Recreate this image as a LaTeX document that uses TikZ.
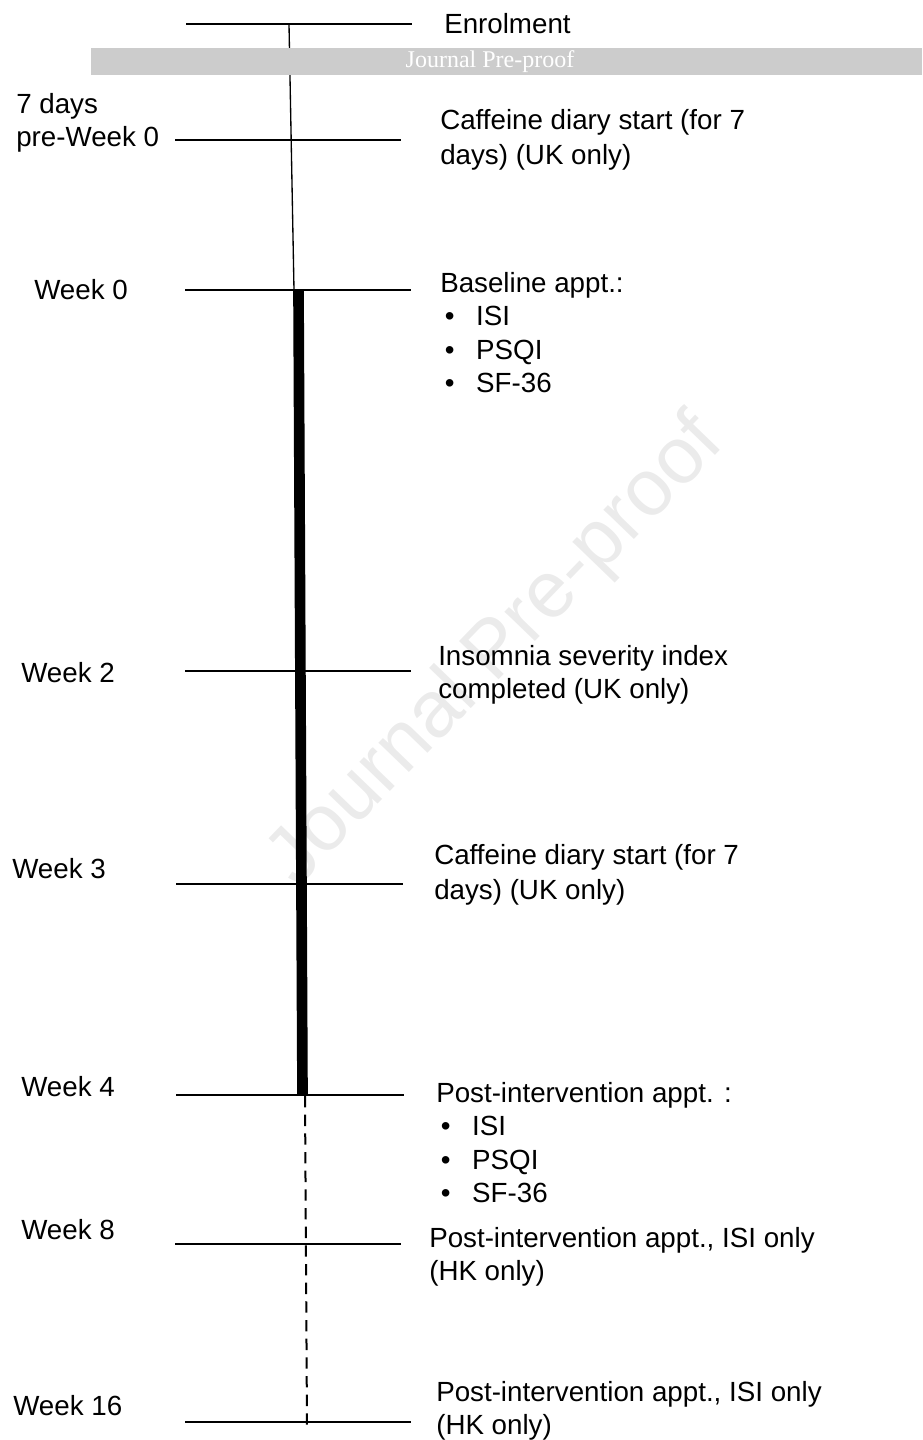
\documentclass[tikz,border=0pt]{standalone}
\usepackage{fontspec}
\setmainfont{Liberation Sans}
\newfontfamily\wmfont{Liberation Serif}

\newcommand{\bulletitem}[1]{\hspace*{3.5pt}\makebox[23.5pt][l]{\textbullet}#1}

\begin{document}
\begin{tikzpicture}[x=0.75pt,y=-0.75pt,
    tickline/.style={line width=1.5pt},
    weektext/.style={anchor=west,inner sep=0pt,font=\fontsize{20.8}{25}\selectfont},
    eventtext/.style={anchor=north west,inner sep=0pt,align=left,font=\fontsize{20.8}{25}\selectfont}]
    \useasboundingbox (0,0) rectangle (922,1440);
    % watermark
    \node[rotate=46,text=gray!16,font=\fontsize{60}{60}\selectfont] (wmark) at (497,652) {Journal Pre-proof};
    % thin part of the time line
    \coordinate (sp-top) at (289,24);
    \coordinate (sp-w0) at (294,290);
    \draw[line width=1pt] (sp-top) -- (sp-w0);
    % grey banner
    \fill[gray!40] (91,48) rectangle (922,75);
    \node[text=white,font=\wmfont\fontsize{18}{18}\selectfont] (banner) at (490,62) {Journal Pre-proof};
    % ticks
    \foreach \tk/\ty/\xa/\xb in {enrol/24/186/412,pre0/140/175/401,w0/290/185/411,w2/671/185/411,
        w3/884/176/403,w4/1095/176/404,w8/1244/175/401,w16/1422/185/411}{
        \coordinate (\tk-l) at (\xa,\ty);
        \coordinate (\tk-r) at (\xb,\ty);
        \draw[tickline] (\tk-l) -- (\tk-r);
    }
    % intervention period and follow-up
    \coordinate (th-top) at (298.5,290);
    \coordinate (th-bot) at (302.5,1095);
    \draw[line width=8pt] (th-top) -- (th-bot);
    \coordinate (fu-top) at (305,1096);
    \coordinate (fu-bot) at (307,1426);
    \draw[line width=1.5pt,dash pattern=on 8.5pt off 5.5pt] (fu-top) -- (fu-bot);
    % time points
    \node[eventtext] (lab-pre0) at (16,93) {7 days\\pre-Week 0};
    \node[weektext] (lab-w0) at (34,290) {Week 0};
    \node[weektext] (lab-w2) at (21,673) {Week 2};
    \node[weektext] (lab-w3) at (12,869) {Week 3};
    \node[weektext] (lab-w4) at (21,1087) {Week 4};
    \node[weektext] (lab-w8) at (21,1230) {Week 8};
    \node[weektext] (lab-w16) at (13,1406) {Week 16};
    % events
    \node[weektext] (ev-enrol) at (444,24) {Enrolment};
    \node[eventtext] (ev-pre0) at (440,109) {Caffeine diary start (for 7\\[1.5pt]days) (UK only)};
    \node[eventtext] (ev-w0) at (440,272) {Baseline appt.:\\\bulletitem{ISI}\\\bulletitem{PSQI}\\\bulletitem{SF-36}};
    \node[eventtext] (ev-w2) at (438,645) {Insomnia severity index\\completed (UK only)};
    \node[eventtext] (ev-w3) at (434,844) {Caffeine diary start (for 7\\[1pt]days) (UK only)};
    \node[eventtext] (ev-w4) at (436,1082) {Post-intervention appt. :\\\bulletitem{ISI}\\\bulletitem{PSQI}\\\bulletitem{SF-36}};
    \node[eventtext] (ev-w8) at (429,1227) {Post-intervention appt., ISI only\\(HK only)};
    \node[eventtext] (ev-w16) at (436,1381) {Post-intervention appt., ISI only\\(HK only)};
\end{tikzpicture}
\end{document}
